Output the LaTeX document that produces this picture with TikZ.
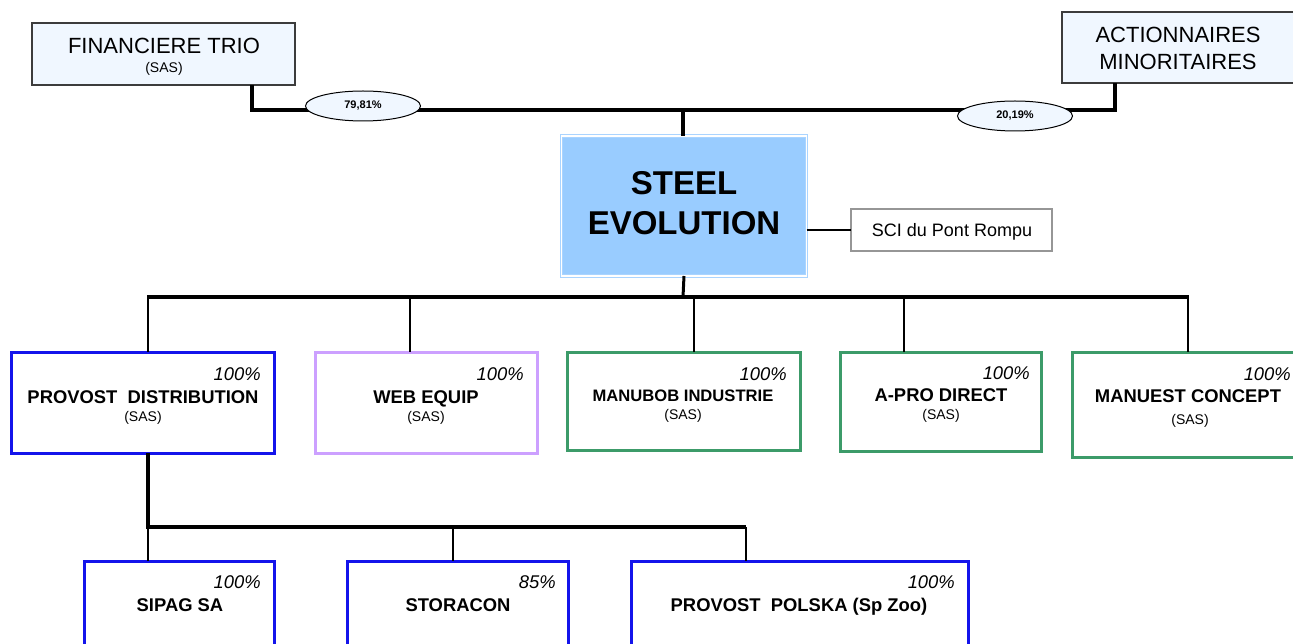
\documentclass[tikz,border=0pt]{standalone}
\usepackage{fontspec}
\setmainfont{Liberation Sans}
\usetikzlibrary{shapes.geometric}
\definecolor{topfill}{RGB}{240,247,255}
\definecolor{topborder}{RGB}{60,60,60}
\definecolor{steelfill}{RGB}{153,204,255}
\definecolor{steelborder}{RGB}{170,212,255}
\definecolor{scigray}{RGB}{150,150,150}
\definecolor{cblue}{RGB}{20,20,235}
\definecolor{cpurple}{RGB}{204,160,255}
\definecolor{cgreen}{RGB}{60,155,105}
\begin{document}
\begin{tikzpicture}[x=1pt,y=-1pt,
  topbox/.style={draw=topborder, fill=topfill, line width=1.3pt, inner sep=0pt, outer sep=0pt},
  cobox/.style={draw=#1, fill=white, line width=3pt, inner sep=0pt, outer sep=0pt},
  pct/.style={font=\fontsize{18.4}{22}\selectfont\itshape, anchor=base east, inner sep=0pt},
  nm/.style={font=\fontsize{18.4}{22}\selectfont\bfseries, anchor=base, inner sep=0pt},
  sas/.style={font=\fontsize{14}{16}\selectfont, anchor=base, inner sep=0pt},
  thk/.style={line width=4pt, line join=miter},
  thn/.style={line width=1.2pt},
  pctell/.style={ellipse, draw, fill=topfill, line width=1pt, minimum width=115pt, minimum height=30pt, inner sep=0pt, font=\fontsize{11}{13}\selectfont\bfseries}
]
\clip (0,0) rectangle (1293,644);
\fill[white] (0,0) rectangle (1293,644);

% top boxes
\node[topbox, minimum width=263pt, minimum height=62pt] (ft) at (163.5,54) {};
\node[font=\fontsize{22}{26}\selectfont, anchor=base, inner sep=0pt] (ftn) at (164,54) {FINANCIERE TRIO};
\node[sas] (fts) at (164,73) {(SAS)};

\node[topbox, minimum width=240pt, minimum height=71pt] (ac) at (1182,47.5) {};
\node[font=\fontsize{22}{26}\selectfont, anchor=base, inner sep=0pt] (ac1) at (1178,43) {ACTIONNAIRES};
\node[font=\fontsize{22}{26}\selectfont, anchor=base, inner sep=0pt] (ac2) at (1178,70) {MINORITAIRES};

% Steel evolution
\node[draw=steelborder, double=white, double distance=1.5pt, line width=0.9pt, fill=steelfill, minimum width=245pt, minimum height=140pt, inner sep=0pt, outer sep=0pt] (se) at (684,206) {};
\node[font=\fontsize{33}{40}\selectfont\bfseries, anchor=base, inner sep=0pt] (se1) at (684,195) {STEEL};
\node[font=\fontsize{33}{40}\selectfont\bfseries, anchor=base, inner sep=0pt] (se2) at (684,235) {EVOLUTION};

\node[draw=scigray, fill=white, line width=2.5pt, minimum width=201pt, minimum height=42pt, inner sep=0pt, outer sep=0pt] (sci) at (951.5,230) {};
\node[font=\fontsize{18}{22}\selectfont, anchor=base, inner sep=0pt] (scit) at (952,237) {SCI du Pont Rompu};

% connectors top
\coordinate (fx) at (252,0);
\coordinate (ax) at (1115,0);
\coordinate (j0) at (683,110);
\draw[thk] (ft.south -| fx) |- (j0) -| (ac.south -| ax);
\draw[line width=3.5pt] (j0) -- (j0 |- se.north);
\node[pctell] (e1) at (363,106) {79,81\%};
\node[pctell] (e2) at (1015,116) {20,19\%};
\draw[thn] (se.east |- sci.west) -- (sci.west);

% first level
\node[cobox=cblue, minimum width=263pt, minimum height=101pt] (pd) at (142.5,402.5) {};
\node[cobox=cpurple, minimum width=222pt, minimum height=101pt] (we) at (426,402.5) {};
\node[cobox=cgreen, minimum width=233pt, minimum height=98pt] (mb) at (683.5,401) {};
\node[cobox=cgreen, minimum width=201pt, minimum height=99pt] (ap) at (940.5,401.5) {};
\node[cobox=cgreen, minimum width=233pt, minimum height=105pt] (me) at (1188.5,404.5) {};

\coordinate (j1) at (683,297);
\draw[line width=3pt] (se.south) -- (j1);
\coordinate (bl) at (147,297);
\coordinate (br) at (1189,297);
\draw[thk] (bl) -- (br);
\coordinate (d1) at (148,297);
\coordinate (d2) at (410,297);
\coordinate (d3) at (694,297);
\coordinate (d4) at (904,297);
\coordinate (d5) at (1188,297);
\draw[thn] (d1) -- (d1 |- pd.north);
\draw[thn] (d2) -- (d2 |- we.north);
\draw[thn] (d3) -- (d3 |- mb.north);
\draw[thn] (d4) -- (d4 |- ap.north);
\draw[thn] (d5) -- (d5 |- me.north);

\node[pct] (pdp) at (261,380) {100\%};
\node[nm] (pdn) at (143,403) {PROVOST\ \ DISTRIBUTION};
\node[sas] (pds) at (143,421) {(SAS)};

\node[pct] (wep) at (524,380) {100\%};
\node[nm] (wen) at (426,403) {WEB EQUIP};
\node[sas] (wes) at (426,421) {(SAS)};

\node[pct] (mbp) at (787,380) {100\%};
\node[nm, font=\fontsize{16.6}{20}\selectfont\bfseries] (mbn) at (683,401) {MANUBOB INDUSTRIE};
\node[sas] (mbs) at (683,419) {(SAS)};

\node[pct] (app) at (1030,379) {100\%};
\node[nm] (apn) at (941,401) {A-PRO DIRECT};
\node[sas] (aps) at (941,419) {(SAS)};

\node[pct] (mep) at (1291,380) {100\%};
\node[nm] (men) at (1188,402) {MANUEST CONCEPT};
\node[sas] (mes) at (1190,424) {(SAS)};

% second level
\node[cobox=cblue, minimum width=190pt, minimum height=120pt] (sp) at (179,621) {};
\node[cobox=cblue, minimum width=221pt, minimum height=120pt] (st) at (457.5,621) {};
\node[cobox=cblue, minimum width=337pt, minimum height=120pt] (pp) at (799.5,621) {};

\coordinate (k0) at (148,527);
\coordinate (k1) at (453,527);
\coordinate (k2) at (746,527);
\draw[thk] (pd.south -| k0) -- (k0) -- (k2);
\draw[thn] (k0) -- (k0 |- sp.north);
\draw[thn] (k1) -- (k1 |- st.north);
\draw[thn] (k2) -- (k2 |- pp.north);

\node[pct] (spp) at (261,588) {100\%};
\node[nm] (spn) at (180,611) {SIPAG SA};
\node[pct] (stp) at (556,588) {85\%};
\node[nm] (stn) at (458,611) {STORACON};
\node[pct] (ppp) at (955,588) {100\%};
\node[nm] (ppn) at (799,611) {PROVOST\ \ POLSKA (Sp Zoo)};
\end{tikzpicture}
\end{document}
